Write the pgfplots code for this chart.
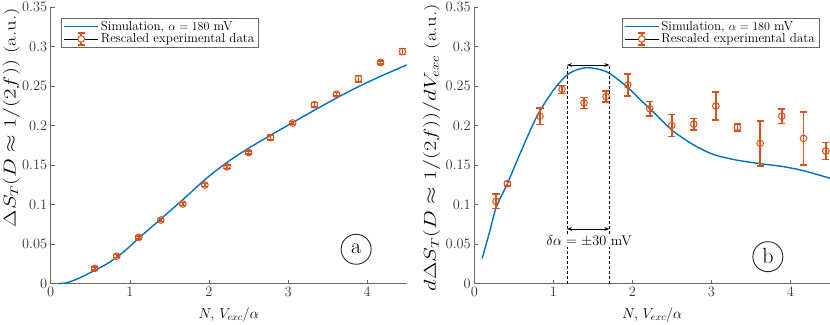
\documentclass[border=0pt]{standalone}
\usepackage{pgfplots}
\pgfplotsset{compat=1.18}
\usetikzlibrary{arrows.meta}

\definecolor{mblue}{rgb}{0,0.447,0.741}
\definecolor{morange}{rgb}{0.85,0.325,0.098}
\definecolor{axgray}{gray}{0.4}

\pgfplotsset{
  panel/.style={
    scale only axis, width=356pt, height=276.4pt,
    xmin=0, xmax=4.5, ymin=0, ymax=0.35,
    axis lines=left, axis line style={-, axgray, line width=0.6pt},
    tick style={axgray, line width=0.6pt}, tick align=inside,
    major tick length=4pt,
    xtick={0,1,2,3,4}, ytick={0,0.05,...,0.35},
    scaled y ticks=false,
    yticklabel style={/pgf/number format/fixed, /pgf/number format/precision=2},
    tick label style={text=black!80, font=\fontsize{14}{16}\selectfont},
    xlabel={$N,\, V_{exc}/\alpha$},
    xlabel style={font=\fontsize{14.5}{16}\selectfont,
      at={(axis description cs:0.5,-0.113)}, anchor=center},
    legend cell align=left,
    legend style={draw=axgray, fill=white, inner xsep=2pt, inner ysep=0.5pt,
      row sep=-2pt, font=\fontsize{13}{15}\selectfont},
    clip=false,
  },
  errs/.style={
    only marks, mark=o, mark size=3.3pt, color=morange,
    mark options={line width=1pt, draw=morange},
    error bars/.cd, y dir=both, y explicit,
    error bar style={line width=1.6pt, draw=morange},
    error mark options={rotate=90, mark size=3.6pt, line width=1.6pt, draw=morange},
  },
  sim/.style={mblue, line width=1.4pt, smooth, no marks},
}

\newcommand{\errlegend}{%
  \addlegendimage{legend image code/.code={
    \path (0pt,0pt) -- (34pt,0pt);
    \draw[draw=morange, line width=1.6pt] (17pt,-6pt) -- (17pt,6pt)
      (13.4pt,-6pt) -- (20.6pt,-6pt) (13.4pt,6pt) -- (20.6pt,6pt);
    \draw[draw=morange, line width=1pt, fill=white] (17pt,0pt) circle (3.3pt);}}}

\begin{document}
\begin{tikzpicture}
\path[use as bounding box] (0,0) rectangle (830pt,324pt);

% (a)
\begin{axis}[panel, at={(50.7pt,40.3pt)}, anchor=south west,
  ylabel={$\Delta S_T(D\approx 1/(2f))$ (a.u.)},
  ylabel style={font=\fontsize{16}{18}\selectfont, inner sep=0pt,
    at={(axis description cs:-0.111,0.6)}, anchor=center, xscale=1.3},
  legend style={at={(axis description cs:0.0298,0.96)}, anchor=north west},
  legend image code/.code={\draw[#1] (0pt,0pt) -- (34pt,0pt);},
]
\addplot[sim] coordinates {
  (0.1,0) (0.2,0.0012) (0.3,0.0045) (0.41,0.0095) (0.56,0.017) (0.7,0.0245)
  (0.835,0.0335) (0.97,0.0445) (1.11,0.0575) (1.25,0.0695) (1.38,0.081)
  (1.53,0.094) (1.68,0.1073) (1.83,0.121) (1.97,0.1335) (2.12,0.1455)
  (2.27,0.1565) (2.5,0.1715) (2.78,0.188) (3.05,0.2035) (3.33,0.2195)
  (3.62,0.2355) (3.9,0.250) (4.2,0.264) (4.5,0.277)
};
\addlegendentry{Simulation, $\alpha=180$ mV}
\errlegend
\addlegendentry{Rescaled experimental data}
\addplot[errs] coordinates {
  (0.557,0.0194) +- (0,0.002)
  (0.835,0.035) +- (0,0.002)
  (1.114,0.0587) +- (0,0.002)
  (1.392,0.0806) +- (0,0.002)
  (1.671,0.1009) +- (0,0.002)
  (1.949,0.125) +- (0,0.002)
  (2.228,0.148) +- (0,0.002)
  (2.502,0.166) +- (0,0.002)
  (2.78,0.185) +- (0,0.003)
  (3.059,0.2035) +- (0,0.002)
  (3.333,0.2267) +- (0,0.003)
  (3.612,0.240) +- (0,0.002)
  (3.89,0.2596) +- (0,0.004)
  (4.169,0.280) +- (0,0.002)
  (4.447,0.294) +- (0,0.004)
};
\draw[black!85, line width=0.9pt] (axis cs:3.861,0.0436) circle (15pt);
\node[font=\fontsize{22}{24}\selectfont] at (axis cs:3.861,0.0446) {a};
\end{axis}

% (b)
\begin{axis}[panel, at={(474.3pt,40.3pt)}, anchor=south west, width=355.7pt,
  ylabel={$d\Delta S_T(D\approx 1/(2f))/dV_{exc}$ (a.u.)},
  ylabel style={font=\fontsize{16}{18}\selectfont, inner sep=0pt,
    at={(axis description cs:-0.12,0.493)}, anchor=center, xscale=1.3},
  legend style={at={(axis description cs:0.969,0.96)}, anchor=north east},
  legend image code/.code={\draw[#1] (0pt,0pt) -- (34pt,0pt);},
]
\addplot[sim] coordinates {
  (0.1,0.032) (0.2,0.068) (0.28,0.0975) (0.42,0.127) (0.58,0.165)
  (0.79,0.2115) (1.0,0.245) (1.17,0.264) (1.3,0.271) (1.42,0.2735)
  (1.55,0.272) (1.7,0.267) (1.93,0.2495) (2.1,0.233) (2.3,0.214)
  (2.5,0.1945) (2.77,0.176) (3.03,0.1635) (3.32,0.1565) (3.62,0.152)
  (3.91,0.1482) (4.17,0.143) (4.5,0.1335)
};
\addlegendentry{Simulation, $\alpha=180$ mV}
\errlegend
\addlegendentry{Rescaled experimental data}
\addplot[errs] coordinates {
  (0.274,0.1043) +- (0,0.009)
  (0.418,0.1266) +- (0,0.003)
  (0.831,0.212) +- (0,0.0105)
  (1.11,0.246) +- (0,0.005)
  (1.388,0.229) +- (0,0.007)
  (1.667,0.237) +- (0,0.007)
  (1.941,0.2516) +- (0,0.014)
  (2.219,0.2216) +- (0,0.009)
  (2.498,0.2005) +- (0,0.014)
  (2.776,0.202) +- (0,0.0074)
  (3.055,0.225) +- (0,0.0175)
  (3.329,0.198) +- (0,0.0046)
  (3.616,0.1777) +- (0,0.0283)
  (3.89,0.212) +- (0,0.009)
  (4.165,0.184) +- (0,0.0336)
  (4.447,0.168) +- (0,0.0108)
};
\draw[densely dashed, line width=0.6pt] (axis cs:1.173,0) -- (axis cs:1.173,0.277);
\draw[densely dashed, line width=0.6pt] (axis cs:1.709,0) -- (axis cs:1.709,0.277);
\draw[{Stealth[length=5pt]}-{Stealth[length=5pt]}, line width=0.8pt]
  (axis cs:1.173,0.277) -- (axis cs:1.709,0.277);
\draw[{Stealth[length=5pt]}-{Stealth[length=5pt]}, line width=0.8pt]
  (axis cs:1.173,0.0693) -- (axis cs:1.709,0.0693);
\node[fill=white, inner sep=1pt, font=\fontsize{14}{16}\selectfont]
  at (axis cs:1.45,0.0545) {$\delta\alpha=\pm 30$ mV};
\draw[black!85, line width=0.9pt] (axis cs:3.714,0.0342) circle (15pt);
\node[font=\fontsize{22}{24}\selectfont] at (axis cs:3.714,0.0355) {b};
\end{axis}
\end{tikzpicture}
\end{document}
